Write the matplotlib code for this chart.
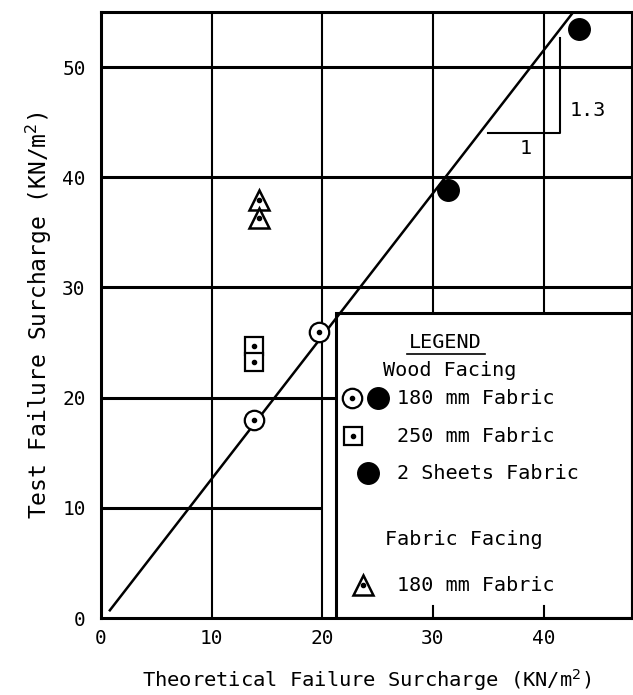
import matplotlib
matplotlib.use('Agg')
import matplotlib.pyplot as plt
from matplotlib.patches import Rectangle

plt.rcParams['font.family'] = ['DejaVu Sans Mono']

# Wood facing, 180 mm fabric (circle with dot)
wood180_x = [13.8, 19.7]
wood180_y = [18.0, 26.0]
# Wood facing, 2 sheets fabric (filled circle)
sheets2_x = [31.4, 43.2]
sheets2_y = [38.8, 53.5]
# Wood facing, 250 mm fabric (square with dot)
wood250_x = [13.8, 13.8]
wood250_y = [24.7, 23.2]
# Fabric facing, 180 mm fabric (triangle with dot)
fab180_x = [14.3, 14.3]
fab180_y = [37.9, 36.3]

# fitted line, slope 1.3
fit_x = [0.8, 42.7]
fit_y = [0.7, 55.0]

x_ticks = [0, 10, 20, 30, 40]
y_ticks = [0, 10, 20, 30, 40, 50]

# partial grid lines (value, start, end)
h_grid = [(10, 0, 20), (20, 0, 21.2), (30, 0, 48), (40, 0, 48), (50, 0, 48)]
v_grid = [(10, 0, 55), (20, 0, 55), (30, 27.7, 55), (40, 27.7, 55)]

legend_box = (21.2, 0, 48, 27.7)

fig = plt.figure(figsize=(6.33, 6.95), dpi=100)
ax = fig.add_axes([101 / 633, 1 - 618 / 695, 531 / 633, 606 / 695])
ax.set_xlim(0, 48)
ax.set_ylim(0, 55)

for y, x0, x1 in h_grid:
    ax.plot([x0, x1], [y, y], color='black', lw=2.2, zorder=1, solid_capstyle='butt')
for x, y0, y1 in v_grid:
    ax.plot([x, x], [y0, y1], color='black', lw=1.5, zorder=1, solid_capstyle='butt')

# legend box
bx0, by0, bx1, by1 = legend_box
ax.add_patch(Rectangle((bx0, by0), bx1 - bx0, by1 - by0, facecolor='white',
                       edgecolor='black', lw=2.2, zorder=2))
for x in [30, 40]:
    ax.plot([x, x], [0, 1.1], color='black', lw=1.5, zorder=3)

# fit line and slope triangle
ax.plot(fit_x, fit_y, color='black', lw=1.8, zorder=4)
ax.plot([35.0, 41.5, 41.5], [44.0, 44.0, 52.6], color='black', lw=1.5, zorder=4)
ax.text(44.0, 46.1, '1.3', fontsize=14.5, ha='center', va='center')
ax.text(38.4, 42.6, '1', fontsize=14.5, ha='center', va='center')


def circle_dot(x, y, **kw):
    ax.plot(x, y, 'o', ms=14, mfc='white', mec='black', mew=1.6, ls='none', zorder=5, **kw)
    ax.plot(x, y, 'o', ms=3, color='black', ls='none', zorder=6, **kw)


def square_dot(x, y, **kw):
    ax.plot(x, y, 's', ms=13, mfc='white', mec='black', mew=1.6, ls='none', zorder=5, **kw)
    ax.plot(x, y, 'o', ms=3, color='black', ls='none', zorder=6, **kw)


def tri_dot(x, y, **kw):
    ax.plot(x, y, '^', ms=15, mfc='white', mec='black', mew=1.8, ls='none', zorder=5, **kw)
    ax.plot(x, y, 'o', ms=3, color='black', ls='none', zorder=6, **kw)


def filled(x, y, **kw):
    ax.plot(x, y, 'o', ms=15.5, color='black', ls='none', zorder=5, **kw)


circle_dot(wood180_x, wood180_y)
square_dot(wood250_x, wood250_y)
tri_dot(fab180_x, fab180_y)
filled(sheets2_x, sheets2_y)

# legend contents (axes fraction)
T = ax.transAxes
fs = 14.5
ax.text(0.648, 0.455, 'LEGEND', transform=T, fontsize=fs, ha='center', va='center', zorder=7)
ax.plot([0.576, 0.723], [0.436, 0.436], transform=T, color='black', lw=1.2, zorder=7)
ax.text(0.531, 0.408, 'Wood Facing', transform=T, fontsize=fs, ha='left', va='center', zorder=7)
circle_dot([0.473], [0.363], transform=T)
filled([0.522], [0.363], transform=T)
ax.text(0.557, 0.363, '180 mm Fabric', transform=T, fontsize=fs, ha='left', va='center', zorder=7)
square_dot([0.475], [0.300], transform=T)
ax.text(0.557, 0.300, '250 mm Fabric', transform=T, fontsize=fs, ha='left', va='center', zorder=7)
filled([0.503], [0.239], transform=T)
ax.text(0.557, 0.239, '2 Sheets Fabric', transform=T, fontsize=fs, ha='left', va='center', zorder=7)
ax.text(0.535, 0.130, 'Fabric Facing', transform=T, fontsize=fs, ha='left', va='center', zorder=7)
tri_dot([0.493], [0.054], transform=T)
ax.text(0.557, 0.054, '180 mm Fabric', transform=T, fontsize=fs, ha='left', va='center', zorder=7)

ax.set_xticks(x_ticks)
ax.set_yticks(y_ticks)
ax.tick_params(length=0, labelsize=14, pad=8)
ax.tick_params(axis='y', pad=11)
for s in ax.spines.values():
    s.set_linewidth(2.2)
    s.set_zorder(8)

ax.set_xlabel('Theoretical Failure Surcharge (KN/m$^2$)', fontsize=14.7, labelpad=14)
ax.set_ylabel('Test Failure Surcharge (KN/m$^2$)', fontsize=16.5, labelpad=6)

fig.savefig('out.png', dpi=100)
